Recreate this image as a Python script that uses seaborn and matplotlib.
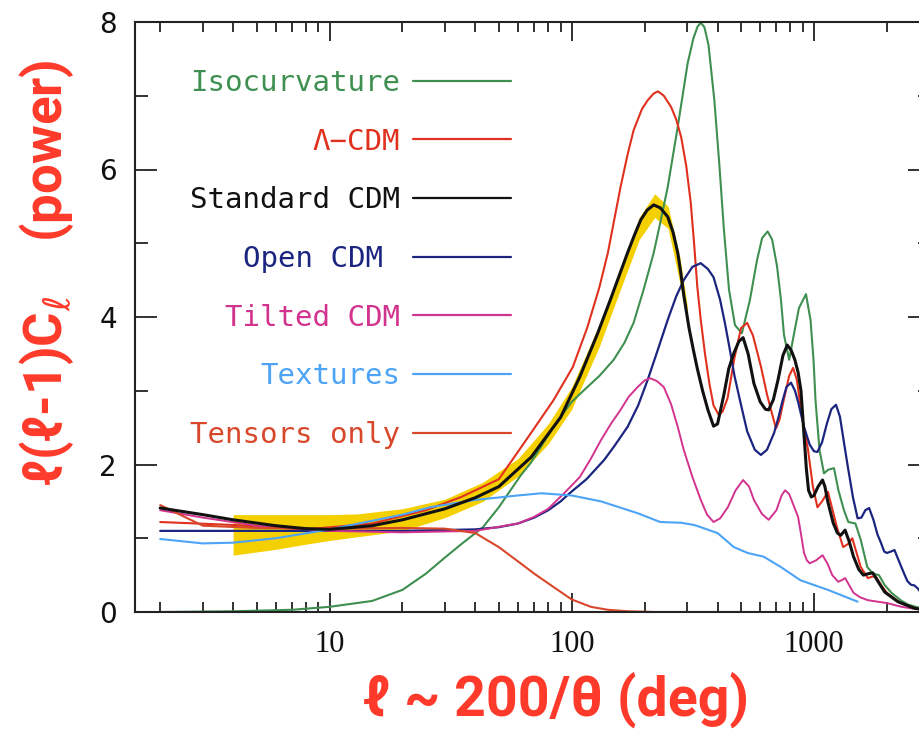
import numpy as np
import pandas as pd
import matplotlib
matplotlib.use("Agg")
import matplotlib.pyplot as plt
from matplotlib.lines import Line2D
from matplotlib.ticker import LogLocator, NullFormatter, FixedLocator
import seaborn as sns

# --- data (l, l(l+1)C_l) ---
l_iso = [2, 4, 7, 10, 15, 20, 25, 30, 35, 43, 50, 61.5, 67.7, 84, 100, 116, 130, 149, 165,
         180, 198, 218, 230, 249, 274, 290, 301, 318, 331, 341, 353, 367, 388, 407, 425, 446,
         472, 504, 544, 582, 611, 644, 672, 704, 731, 752, 790, 826, 867, 927, 968, 996,
         1015, 1054, 1100, 1146, 1210, 1262, 1330, 1387, 1483, 1560, 1660, 1753, 1855, 1955,
         2090, 2280, 2450, 2770, 3000]
y_iso = [0.0, 0.01, 0.03, 0.07, 0.15, 0.3, 0.52, 0.74, 0.92, 1.15, 1.42, 1.85, 2.02, 2.51,
         2.85, 3.05, 3.2, 3.42, 3.65, 3.92, 4.37, 4.87, 5.22, 5.76, 6.58, 7.1, 7.44, 7.78,
         7.94, 7.99, 7.93, 7.69, 6.94, 6.06, 5.18, 4.37, 3.89, 3.78, 4.23, 4.77, 5.07, 5.16,
         5.05, 4.69, 4.23, 3.76, 3.42, 3.76, 4.12, 4.31, 3.96, 3.42, 2.87, 2.2, 1.88, 1.93,
         1.95, 1.65, 1.38, 1.22, 1.20, 0.98, 0.61, 0.52, 0.50, 0.37, 0.26, 0.16, 0.10, 0.05,
         0.03]

l_lcdm = [2, 4, 8, 15, 25, 35, 50, 68, 84, 101, 116, 130, 141, 159, 170, 180, 195, 206, 218,
          227, 240, 257, 270, 283, 297, 310, 320, 330, 341, 355, 370, 385, 405, 420, 440, 470,
          500, 530, 560, 604, 640, 665, 697, 720, 750, 790, 820, 850, 884, 945, 990, 1034,
          1080, 1142, 1190, 1244, 1320, 1380, 1440, 1500, 1560, 1670, 1740, 1800, 1900, 2000,
          2280, 2700, 3000]
y_lcdm = [1.22, 1.18, 1.12, 1.2, 1.38, 1.56, 1.8, 2.43, 2.87, 3.32, 3.86, 4.4, 4.87, 5.76,
          6.2, 6.53, 6.82, 6.94, 7.03, 7.06, 7.0, 6.85, 6.68, 6.44, 6.05, 5.55, 5.0, 4.41,
          3.96, 3.5, 3.1, 2.8, 2.67, 2.72, 2.9, 3.45, 3.85, 3.92, 3.75, 3.33, 2.95, 2.74, 2.49,
          2.6, 2.87, 3.2, 3.31, 3.15, 2.74, 2.2, 1.7, 1.42, 1.5, 1.63, 1.4, 1.15, 0.88, 0.92,
          1.0, 0.8, 0.61, 0.46, 0.48, 0.48, 0.36, 0.26, 0.12, 0.04, 0.02]

l_std = [2, 3, 4, 6, 8, 10, 15, 20, 30, 40, 50, 68, 90, 108, 128, 145, 170, 182, 193, 205,
         218, 232, 249, 262, 274, 282, 290, 305, 318, 330, 347, 365, 385, 400, 425, 445, 467,
         490, 510, 535, 565, 600, 630, 650, 680, 711, 745, 776, 805, 834, 860, 884, 910, 930,
         950, 975, 1000, 1040, 1085, 1110, 1140, 1200, 1250, 1290, 1345, 1400, 1457, 1530,
         1600, 1680, 1750, 1850, 1960, 2220, 2600, 3000]
y_std = [1.41, 1.32, 1.25, 1.17, 1.13, 1.12, 1.17, 1.25, 1.40, 1.55, 1.70, 2.10, 2.64, 3.19,
         3.78, 4.25, 4.87, 5.12, 5.32, 5.45, 5.52, 5.48, 5.36, 5.15, 4.87, 4.6, 4.3, 3.85,
         3.55, 3.3, 3.0, 2.74, 2.52, 2.55, 2.95, 3.3, 3.51, 3.67, 3.72, 3.5, 3.1, 2.85, 2.75,
         2.74, 2.88, 3.15, 3.48, 3.62, 3.55, 3.42, 3.25, 3.0, 2.4, 1.95, 1.65, 1.56, 1.58,
         1.7, 1.79, 1.7, 1.5, 1.21, 1.07, 1.04, 1.11, 0.95, 0.75, 0.58, 0.50, 0.52, 0.53,
         0.4, 0.27, 0.14, 0.05, 0.02]

l_open = [2, 5, 10, 20, 40, 50, 60, 70, 80, 90, 98, 115, 136, 150, 170, 188, 206, 228, 249,
          270, 290, 315, 341, 365, 385, 410, 430, 450, 470, 495, 530, 570, 604, 640, 685, 715,
          740, 770, 804, 835, 860, 910, 960, 1000, 1034, 1080, 1130, 1180, 1233, 1280, 1330,
          1380, 1450, 1515, 1570, 1630, 1690, 1760, 1830, 1890, 1950, 2000, 2080, 2150, 2250,
          2350, 2430, 2515, 2600, 2680, 2800, 3000]
y_open = [1.10, 1.10, 1.10, 1.10, 1.12, 1.15, 1.2, 1.28, 1.38, 1.5, 1.61, 1.8, 2.06, 2.25,
          2.51, 2.8, 3.15, 3.58, 3.96, 4.28, 4.50, 4.68, 4.73, 4.65, 4.54, 4.23, 3.9, 3.55,
          3.2, 2.87, 2.45, 2.2, 2.13, 2.2, 2.43, 2.65, 2.85, 3.05, 3.11, 3.0, 2.85, 2.51, 2.27,
          2.18, 2.17, 2.3, 2.55, 2.75, 2.81, 2.65, 2.3, 1.97, 1.55, 1.27, 1.28, 1.38, 1.41,
          1.25, 1.05, 0.94, 0.82, 0.80, 0.82, 0.84, 0.68, 0.53, 0.42, 0.37, 0.36, 0.32, 0.24,
          0.16]

l_tilt = [2, 3, 5, 10, 20, 40, 60, 70, 80, 93, 108, 120, 132, 145, 159, 172, 187, 200, 211,
          225, 240, 257, 274, 290, 315, 341, 362, 385, 410, 441, 475, 510, 540, 565, 610, 650,
          700, 735, 760, 790, 830, 860, 885, 910, 935, 960, 1020, 1085, 1140, 1190, 1260, 1300,
          1345, 1400, 1457, 1550, 1670, 2010, 2300, 2515, 3000]
y_tilt = [1.38, 1.28, 1.17, 1.1, 1.08, 1.1, 1.2, 1.29, 1.4, 1.61, 1.83, 2.08, 2.33, 2.55,
          2.74, 2.92, 3.05, 3.14, 3.17, 3.13, 3.05, 2.82, 2.51, 2.20, 1.83, 1.52, 1.32, 1.22,
          1.27, 1.42, 1.65, 1.79, 1.7, 1.52, 1.33, 1.25, 1.38, 1.58, 1.65, 1.6, 1.42, 1.29,
          1.05, 0.80, 0.7, 0.66, 0.7, 0.77, 0.65, 0.50, 0.41, 0.43, 0.46, 0.36, 0.26, 0.2,
          0.16, 0.12, 0.07, 0.05, 0.03]

l_tex = [2, 3, 4, 6, 10, 20, 26, 40, 60, 75, 100, 132, 187, 232, 283, 320, 341, 400, 467, 533,
         620, 730, 880, 1142, 1515]
y_tex = [0.99, 0.93, 0.94, 1.0, 1.12, 1.32, 1.42, 1.52, 1.58, 1.61, 1.58, 1.5, 1.34, 1.22,
         1.21, 1.18, 1.15, 1.07, 0.88, 0.80, 0.75, 0.61, 0.43, 0.30, 0.14]

l_tens = [2, 3, 5, 10, 20, 30, 40, 50, 61.5, 70, 84, 100, 120, 141, 170, 220, 400, 1000, 1500]
y_tens = [1.45, 1.17, 1.14, 1.13, 1.14, 1.13, 1.07, 0.88, 0.66, 0.52, 0.34, 0.17, 0.07, 0.03,
          0.01, 0.0, 0.0, 0.0, 0.0]

# yellow band round the standard CDM curve
l_band = [4, 6, 8, 10, 13, 20, 30, 43, 60, 80, 100, 130, 160, 190, 220, 250, 280, 300]
band_hi = [1.32, 1.32, 1.32, 1.32, 1.33, 1.40, 1.53, 1.76, 2.08, 2.55, 3.05, 3.9, 4.7, 5.35,
           5.67, 5.5, 4.8, 4.15]
band_lo = [0.77, 0.85, 0.92, 0.97, 1.02, 1.10, 1.28, 1.50, 1.84, 2.28, 2.75, 3.6, 4.4, 5.05,
           5.35, 5.2, 4.45, 3.9]

names = ["Isocurvature", "\u039b\u2212CDM", "Standard CDM", "Open CDM ", "Tilted CDM",
         "Textures", "Tensors only"]
colors = ["#3f9050", "#e0301e", "#111111", "#1b2580", "#d2338f", "#4da3f5", "#d9472b"]
widths = [1.5, 1.5, 2.2, 1.6, 1.4, 1.5, 1.5]
series = [(l_iso, y_iso), (l_lcdm, y_lcdm), (l_std, y_std), (l_open, y_open),
          (l_tilt, y_tilt), (l_tex, y_tex), (l_tens, y_tens)]

sns.set_style("ticks")
plt.rcParams["font.family"] = ["DejaVu Sans"]

fig = plt.figure(figsize=(9.2, 7.31), dpi=100)
ax = fig.add_axes([135 / 920, 119 / 731, 795 / 920, 590 / 731])

ax.fill_between(l_band, band_lo, band_hi, color="#f5d000", lw=0, zorder=1)

for name, (lv, yv), c, w in zip(names, series, colors, widths):
    d = pd.DataFrame({"l": lv, "power": yv})
    sns.lineplot(data=d, x="l", y="power", color=c, lw=w, ax=ax, estimator=None,
                 zorder=3 if name == "Standard CDM" else 2)

ax.set_xscale("log")
ax.set_xlim(1.574, 3014)
ax.set_ylim(0, 8)
ax.set_xlabel("")
ax.set_ylabel("")

ax.set_xticks([10, 100, 1000])
ax.set_xticklabels(["10", "100", "1000"], fontfamily="Liberation Serif", fontsize=22)
ax.xaxis.set_minor_locator(LogLocator(base=10, subs=np.arange(2, 10)))
ax.xaxis.set_minor_formatter(NullFormatter())
ax.set_yticks([0, 2, 4, 6, 8])
ax.set_yticklabels(["0", "2", "4", "6", "8"], fontsize=20)
ax.yaxis.set_minor_locator(FixedLocator([1, 3, 5, 7]))

ax.tick_params(which="both", direction="in", top=True, right=True, color="#222222",
               width=1.3, labelcolor="#111111")
ax.tick_params(axis="x", which="major", length=14, pad=13)
ax.tick_params(axis="x", which="minor", length=7)
ax.tick_params(axis="y", which="major", length=16, pad=13)
ax.tick_params(axis="y", which="minor", length=9)
for s in ax.spines.values():
    s.set_linewidth(1.5)
    s.set_color("#222222")

handles = [Line2D([], [], color=c, lw=1.6) for c in colors]
leg = ax.legend(handles, names, loc="upper right", bbox_to_anchor=(511 / 920, 1 - 69 / 731),
                bbox_transform=fig.transFigure, frameon=False, markerfirst=False,
                prop={"family": "DejaVu Sans Mono", "size": 21}, handlelength=3.35,
                handletextpad=0.45, labelspacing=1.05, borderpad=0, borderaxespad=0,
                labelcolor=colors)

red = "#ff3a2a"
fig.text(47 / 920, 1 - 273 / 731, "\u2113(\u2113-1)C$_\\ell$    (power)", rotation=90,
         ha="center", va="center", color=red, fontsize=38, fontweight="bold",
         family=["Roboto", "DejaVu Sans"])
fig.text(556 / 920, 1 - 700 / 731, "\u2113 ~ 200/\u03b8 (deg)", ha="center", va="center",
         color=red, fontsize=40, fontweight="bold", family=["Roboto", "DejaVu Sans"])

fig.savefig("out.png", dpi=100)
